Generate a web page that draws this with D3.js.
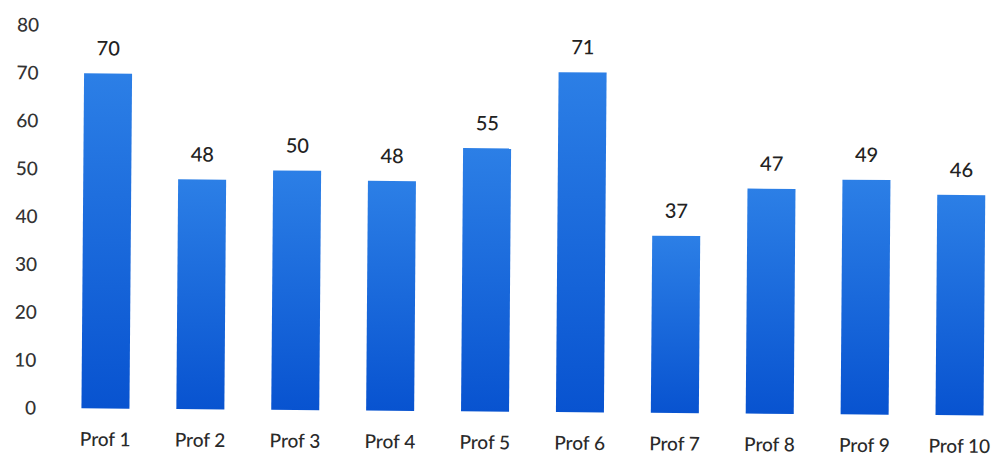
<!DOCTYPE html>
<html>
<head>
<meta charset="utf-8">
<script src="https://cdn.jsdelivr.net/npm/d3@7"></script>
<style>
  html, body { margin: 0; padding: 0; background: #fff; }
  svg { display: block; }
  text { font-family: Lato, "Open Sans", sans-serif; }
</style>
</head>
<body>
<svg id="chart" width="999" height="456"></svg>
<script>
// Scores per professor
const categories = ["Prof 1", "Prof 2", "Prof 3", "Prof 4", "Prof 5",
                    "Prof 6", "Prof 7", "Prof 8", "Prof 9", "Prof 10"];
const values = [70, 48, 50, 48, 55, 71, 37, 47, 49, 46];
const yTicks = [0, 10, 20, 30, 40, 50, 60, 70, 80];

const svg = d3.select("#chart");

const defs = svg.append("defs");
const grad = defs.append("linearGradient")
  .attr("id", "barFill")
  .attr("x1", 0).attr("y1", 0).attr("x2", 0).attr("y2", 1);
grad.append("stop").attr("offset", "0%").attr("stop-color", "#2c7fe6");
grad.append("stop").attr("offset", "100%").attr("stop-color", "#0853d0");

// whole chart sits slightly tilted
const g = svg.append("g").attr("transform", "rotate(0.45, 35, 408)");

const x = d3.scaleBand()
  .domain(categories)
  .range([58, 1007])
  .paddingInner(0.494)
  .paddingOuter(0.247);

const y = d3.scaleLinear()
  .domain([0, 80])
  .range([408, 25]);

// y axis: labels only
const yAxis = g.append("g")
  .attr("transform", "translate(36,0)")
  .call(d3.axisLeft(y).tickValues(yTicks).tickSize(0).tickPadding(0));
yAxis.select(".domain").remove();
yAxis.selectAll("text")
  .style("font-family", "Lato, 'Open Sans', sans-serif")
  .style("font-size", "19px")
  .style("font-weight", "500")
  .attr("fill", "#333");

// bars
g.selectAll("rect.bar")
  .data(values)
  .join("rect")
  .attr("class", "bar")
  .attr("x", (d, i) => x(categories[i]))
  .attr("width", x.bandwidth())
  .attr("y", d => y(d))
  .attr("height", d => y(0) - y(d))
  .attr("fill", "url(#barFill)");

// value labels
g.selectAll("text.val")
  .data(values)
  .join("text")
  .attr("class", "val")
  .attr("x", (d, i) => x(categories[i]) + x.bandwidth() / 2)
  .attr("y", d => y(d) - 18)
  .attr("text-anchor", "middle")
  .attr("font-size", "20px")
  .attr("font-weight", "500")
  .attr("fill", "#222")
  .text(d => d);

// category labels
const xAxis = g.append("g")
  .attr("transform", `translate(0,${y(0)})`)
  .call(d3.axisBottom(x).tickSize(0).tickPadding(24));
xAxis.select(".domain").remove();
xAxis.selectAll("text")
  .style("font-family", "Lato, 'Open Sans', sans-serif")
  .style("font-size", "19px")
  .style("font-weight", "500")
  .attr("fill", "#2a2a2a");
</script>
</body>
</html>
